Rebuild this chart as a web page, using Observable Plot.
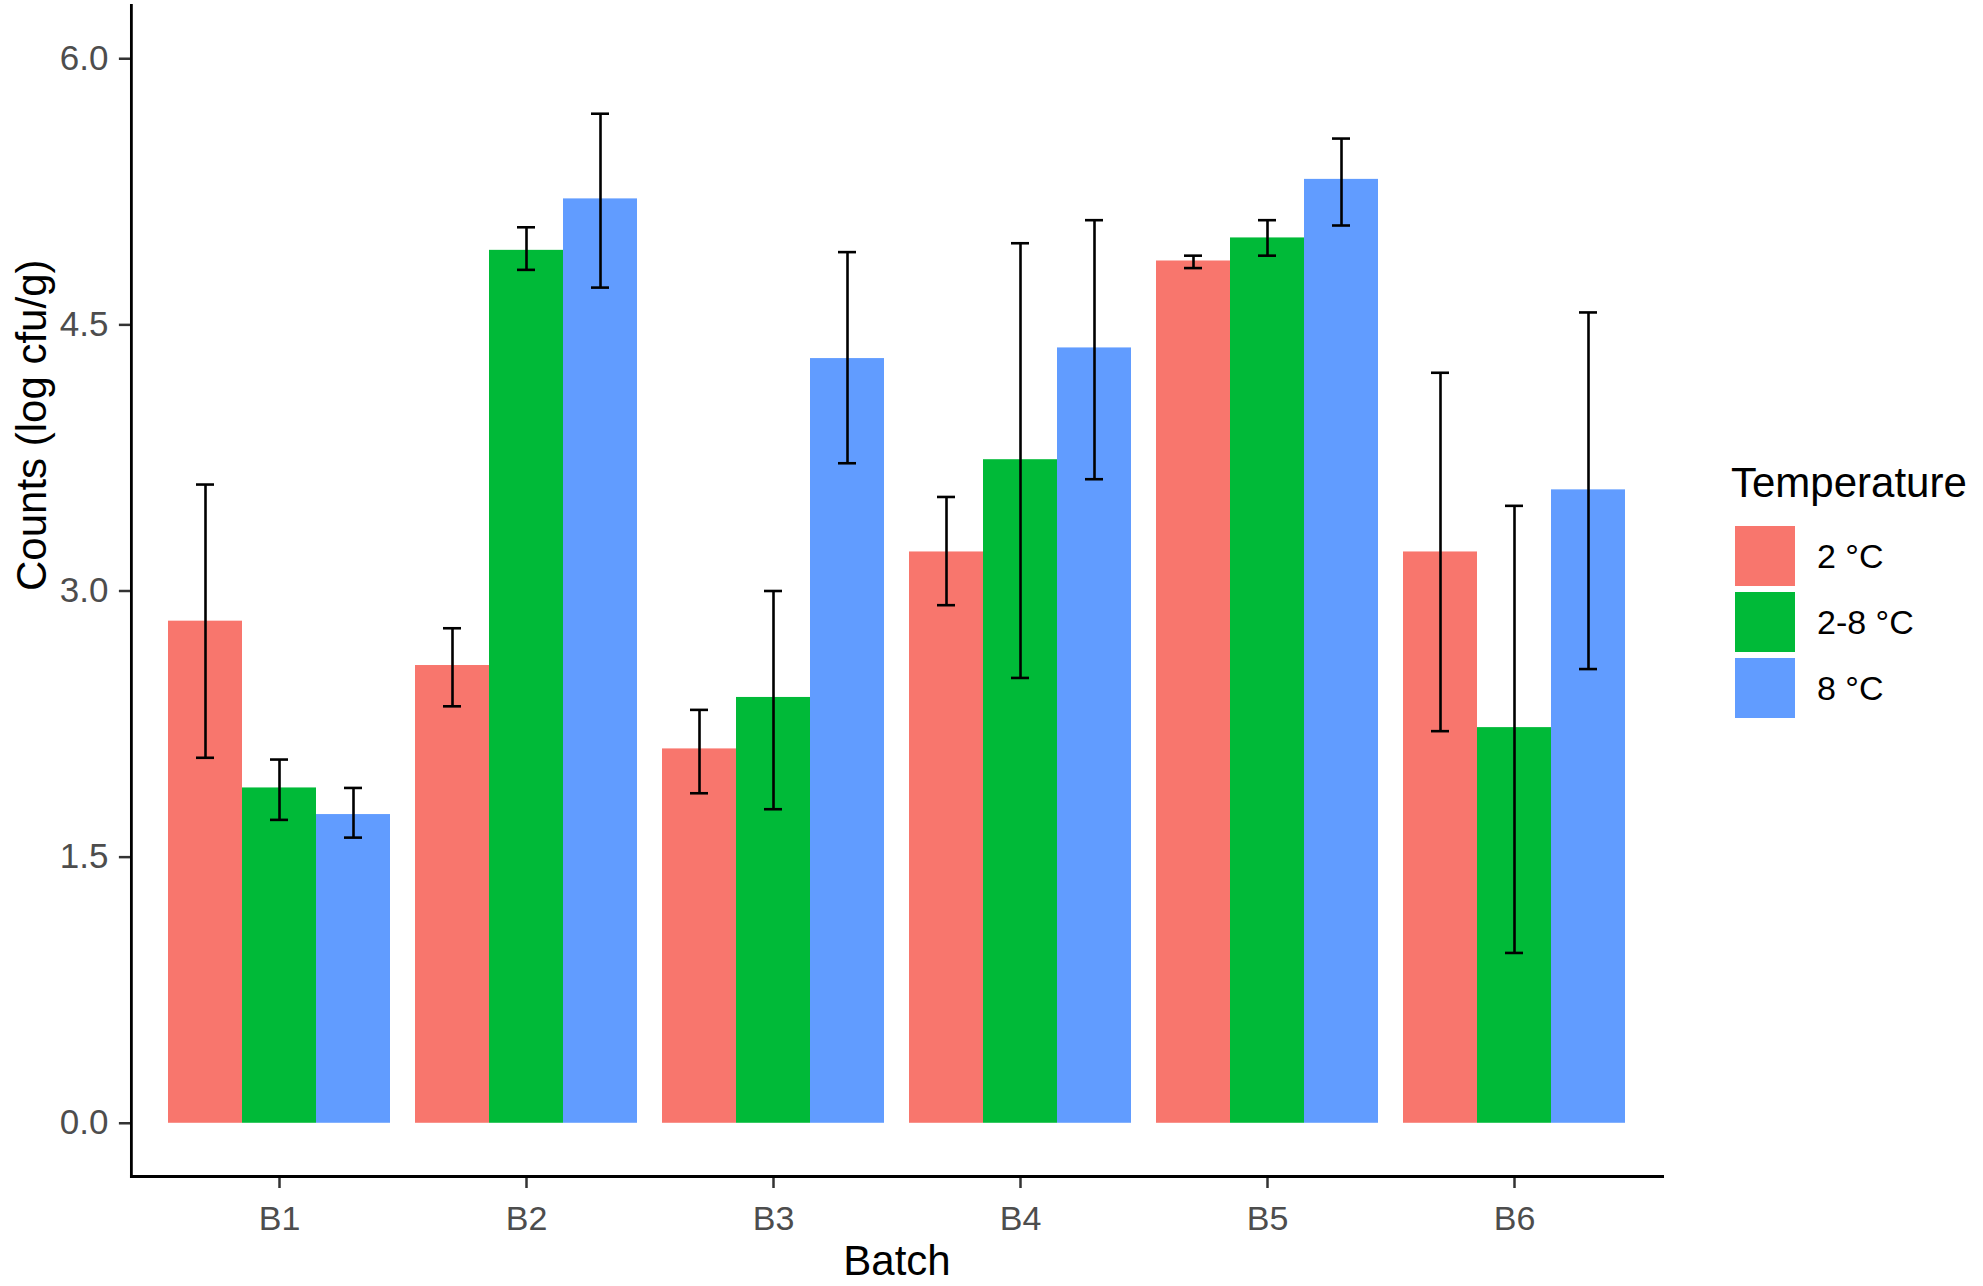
<!DOCTYPE html>
<html><head><meta charset="utf-8">
<script src="https://cdn.jsdelivr.net/npm/d3@7"></script>
<script src="https://cdn.jsdelivr.net/npm/@observablehq/plot@0.6"></script>
<style>
body{margin:0;background:#fff;font-family:"Liberation Sans",Arial,sans-serif;}
#wrap{position:relative;width:1983px;height:1286px;overflow:hidden;}
#legend{position:absolute;left:1731px;top:462px;}
#legend .title{font-size:42px;line-height:42px;color:#000;margin-bottom:22px;}
#legend .row{display:flex;align-items:center;height:60px;margin-bottom:6px;margin-left:4px;}
#legend .sw{width:60px;height:60px;}
#legend .lab{font-size:34px;margin-left:22px;color:#000;}
</style></head><body><div id="wrap"></div><script>
const batches = ["B1","B2","B3","B4","B5","B6"];
const temperatures = ["2 °C","2-8 °C","8 °C"];
const colors = ["#F8766D","#00BA38","#619CFF"];
// means per temperature, one value per batch
const mean2  = [2.83, 2.58, 2.11, 3.22, 4.86, 3.22];
const mean28 = [1.89, 4.92, 2.40, 3.74, 4.99, 2.23];
const mean8  = [1.74, 5.21, 4.31, 4.37, 5.32, 3.57];
// lower error bar ends
const low2  = [2.06, 2.35, 1.86, 2.92, 4.82, 2.21];
const low28 = [1.71, 4.81, 1.77, 2.51, 4.89, 0.96];
const low8  = [1.61, 4.71, 3.72, 3.63, 5.06, 2.56];
// upper error bar ends
const high2  = [3.60, 2.79, 2.33, 3.53, 4.89, 4.23];
const high28 = [2.05, 5.05, 3.00, 4.96, 5.09, 3.48];
const high8  = [1.89, 5.69, 4.91, 5.09, 5.55, 4.57];
const yTicks = [0, 1.5, 3, 4.5, 6];

const means = [mean2, mean28, mean8], lows = [low2, low28, low8], highs = [high2, high28, high8];
const rows = [];
temperatures.forEach((t, i) => batches.forEach((b, j) => rows.push({batch: b, temp: t, mean: means[i][j], lo: lows[i][j], hi: highs[i][j]})));

const W = 1983, H = 1286, mL = 130, mR = 319;
const padIn = 0.1, padOut = 0.15;
// offset of the first facet from the panel's left edge (so axis lines sit on the panel edge)
const facetOffset = padOut * (W - mL - mR) / (batches.length - padIn + 2 * padOut);

const plot = Plot.plot({
  width: W, height: H,
  marginLeft: mL, marginRight: mR, marginTop: 5, marginBottom: 110,
  style: {fontFamily: "Liberation Sans, Arial, sans-serif", background: "#fff"},
  fx: {domain: batches, paddingInner: padIn, paddingOuter: padOut, align: 0.5, label: null},
  x: {domain: temperatures, padding: 0, axis: null},
  y: {domain: [-0.3, 6.3], axis: null},
  color: {domain: temperatures, range: colors},
  marks: [
    Plot.barY(rows, {fx: "batch", x: "temp", y1: 0, y2: "mean", fill: "temp"}),
    Plot.ruleX(rows, {fx: "batch", x: "temp", y1: "lo", y2: "hi", stroke: "#000", strokeWidth: 2.6}),
    Plot.tickY(rows, {fx: "batch", x: "temp", y: "lo", stroke: "#000", strokeWidth: 2.6, insetLeft: 28, insetRight: 28}),
    Plot.tickY(rows, {fx: "batch", x: "temp", y: "hi", stroke: "#000", strokeWidth: 2.6, insetLeft: 28, insetRight: 28}),
    Plot.axisY(yTicks, {anchor: "left", dx: -facetOffset, tickSize: 12, tickPadding: 11, fontSize: 35, fill: "#4D4D4D", stroke: "#333", strokeWidth: 2.5, tickFormat: d => d.toFixed(1), label: null}),
    Plot.axisFx({anchor: "bottom", tickSize: 12, tickPadding: 17, fontSize: 34, fill: "#4D4D4D", stroke: "#333", strokeWidth: 2.5, label: null}),
    Plot.frame({anchor: "left", facet: "super", stroke: "#000", strokeWidth: 2.8, insetLeft: -facetOffset}),
    Plot.frame({anchor: "bottom", facet: "super", stroke: "#000", strokeWidth: 2.8, insetLeft: -facetOffset, insetRight: -facetOffset}),
    Plot.text(["Batch"], {facet: "super", frameAnchor: "bottom", dy: 98, fontSize: 42, fill: "#000"}),
    Plot.text(["Counts (log cfu/g)"], {facet: "super", frameAnchor: "left", rotate: -90, dx: -99 - facetOffset, fontSize: 42, fill: "#000"})
  ]
});
const wrap = document.getElementById("wrap");
wrap.appendChild(plot);

const legend = document.createElement("div");
legend.id = "legend";
const title = document.createElement("div");
title.className = "title";
title.textContent = "Temperature";
legend.appendChild(title);
temperatures.forEach((t, i) => {
  const row = document.createElement("div");
  row.className = "row";
  const sw = document.createElement("div");
  sw.className = "sw";
  sw.style.background = colors[i];
  const lab = document.createElement("div");
  lab.className = "lab";
  lab.textContent = t;
  row.appendChild(sw); row.appendChild(lab);
  legend.appendChild(row);
});
wrap.appendChild(legend);
</script></body></html>
